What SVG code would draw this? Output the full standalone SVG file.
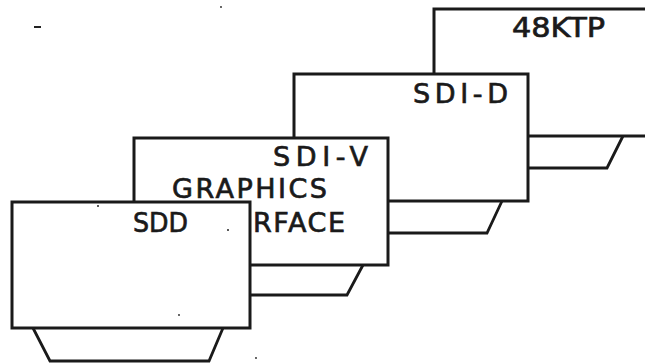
<svg xmlns="http://www.w3.org/2000/svg" width="645" height="363" viewBox="0 0 645 363">
<style>
.box{fill:#fff;stroke:#1a1a1a;stroke-width:3}
.base{fill:none;stroke:#1a1a1a;stroke-width:2.8;stroke-linejoin:miter}
.lbl{font-family:"DejaVu Sans",sans-serif;font-size:27px;fill:#1a1a1a;stroke:#1a1a1a;stroke-width:0.7}
.speck{fill:#222}
</style>
<rect width="645" height="363" fill="#fff"/>
<g id="node-48ktp">
<polyline class="base" points="455,136 472,168 607,168 623,136"/>
<rect class="box" x="434" y="9" width="230" height="127"/>
<text class="lbl" x="512" y="37" textLength="93" lengthAdjust="spacingAndGlyphs">48KTP</text>
</g>
<g id="node-sdi-d">
<polyline class="base" points="315,201 332,233 487,233 502,201"/>
<rect class="box" x="294" y="74" width="234" height="127"/>
<text class="lbl" x="413" y="103" textLength="95" lengthAdjust="spacing">SDI-D</text>
</g>
<g id="node-sdi-v">
<polyline class="base" points="155,265 172,295 347,295 363,265"/>
<rect class="box" x="134" y="138" width="254" height="127"/>
<text class="lbl" x="273" y="166" textLength="95" lengthAdjust="spacing">SDI-V</text>
<text class="lbl" x="172" y="198" textLength="155" lengthAdjust="spacing">GRAPHICS</text>
<text class="lbl" x="253" y="232" textLength="92" lengthAdjust="spacing">RFACE</text>
</g>
<g id="node-sdd">
<polyline class="base" points="33,328 50,361 209,361 223,328"/>
<rect class="box" x="12" y="202" width="238" height="126"/>
<text class="lbl" x="133" y="232" textLength="55" lengthAdjust="spacingAndGlyphs">SDD</text>
</g>
<g id="connectors"></g>
<g id="specks">
<rect class="speck" x="34" y="26" width="7" height="2"/>
<circle class="speck" cx="221" cy="7" r="0.9"/>
<circle class="speck" cx="98" cy="206" r="1"/>
<circle class="speck" cx="228" cy="230" r="1"/>
<circle class="speck" cx="179" cy="315" r="0.9"/>
<circle class="speck" cx="256" cy="358" r="0.9"/>
</g>
</svg>
